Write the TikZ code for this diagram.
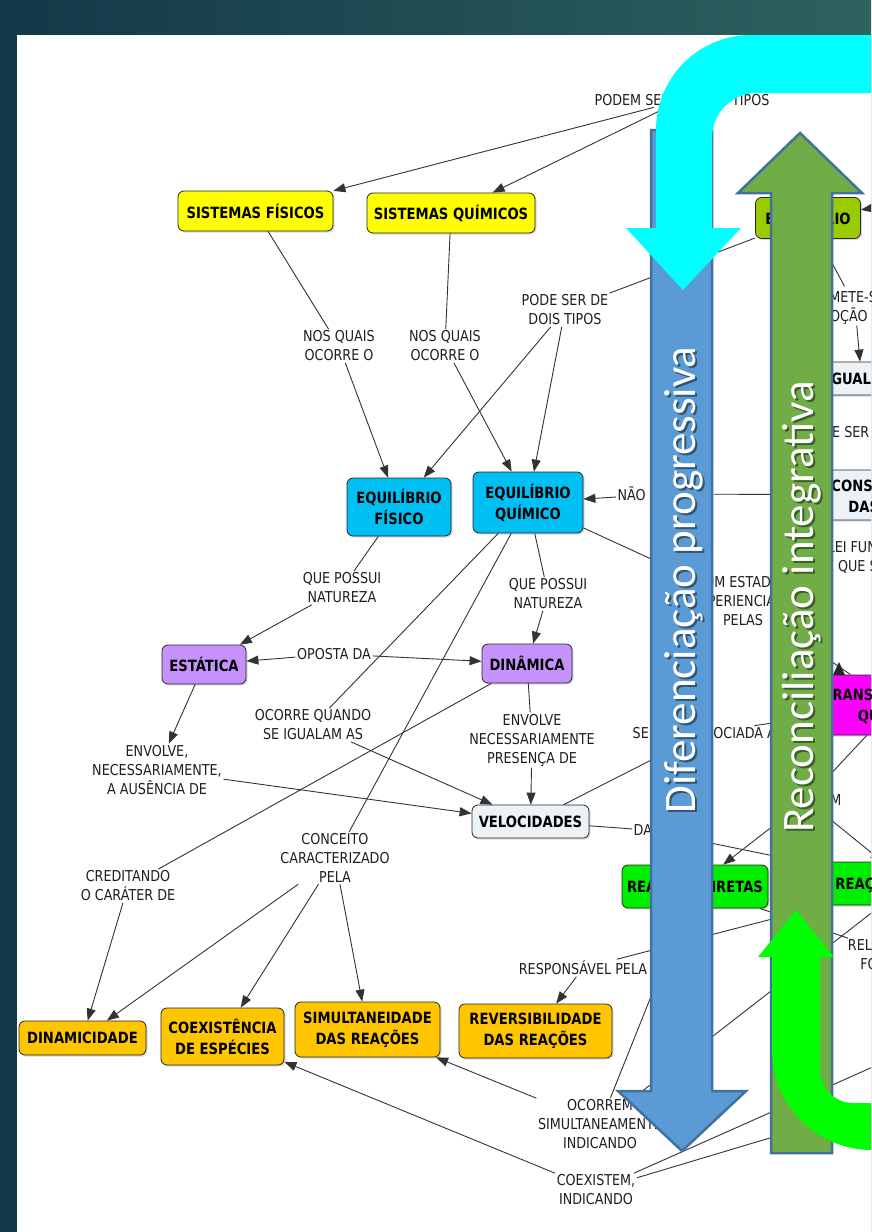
\documentclass[tikz,border=0pt]{standalone}
\usepackage{fontspec}
\newfontfamily\dvsfont{DejaVu Sans}[FakeStretch=0.85]
\newfontfamily\calfnt{Carlito}
\usetikzlibrary{arrows.meta,shadows,calc}
\definecolor{bgL}{RGB}{19,56,72}
\definecolor{bgR}{RGB}{45,98,95}
\definecolor{cYel}{RGB}{255,255,0}
\definecolor{cOlive}{RGB}{153,204,0}
\definecolor{cCyan}{RGB}{0,191,243}
\definecolor{cPurp}{RGB}{196,146,250}
\definecolor{cLight}{RGB}{236,242,246}
\definecolor{cOr}{RGB}{255,198,0}
\definecolor{cGreen}{RGB}{0,238,0}
\definecolor{cMag}{RGB}{255,0,255}
\definecolor{arBlue}{RGB}{91,155,213}
\definecolor{arEdge}{RGB}{65,113,156}
\definecolor{arGreen}{RGB}{112,173,71}
\definecolor{arCyan}{RGB}{0,255,255}
\definecolor{arLime}{RGB}{0,255,0}
\begin{document}
\begin{tikzpicture}[x=1pt,y=-1pt,
  lab/.style={font=\dvsfont\fontsize{15}{19}\selectfont, align=center, inner sep=1.5pt, text=black!88},
  con/.style={draw=black!85, line width=0.8pt, rounded corners=6pt,
    font=\dvsfont\bfseries\fontsize{15.5}{21}\selectfont, align=center, inner sep=2pt,
    drop shadow={shadow xshift=1.5pt, shadow yshift=-1.5pt, opacity=0.3}},
  ln/.style={draw=black!80, line width=0.9pt},
  ar/.style={ln, -{Triangle[length=12pt,width=9pt]}},
  rot/.style={rotate=90, font=\calfnt\fontsize{45}{54}\selectfont, inner sep=0pt},
  bigarrow/.style={draw=arEdge, line width=2.5pt, line join=miter},
]
\useasboundingbox (0,0) rectangle (871,1232);
\begin{scope}
\clip (0,0) rectangle (871,1232);
\shade[left color=bgL, right color=bgR] (0,0) rectangle (871,1232);
\fill[white] (17,35) rectangle (871,1232);

% concepts
\node[con, fill=cYel, minimum width=155, minimum height=40] (sf) at (255.5,211) {SISTEMAS FÍSICOS};
\node[con, fill=cYel, minimum width=168, minimum height=40] (sq) at (451,213) {SISTEMAS QUÍMICOS};
\node[con, fill=cOlive, minimum width=105, minimum height=41] (eq) at (808,218) {EQUILÍBRIO};
\node[con, fill=cCyan, minimum width=104, minimum height=58] (ef) at (399,507) {EQUILÍBRIO\\FÍSICO};
\node[con, fill=cCyan, minimum width=110, minimum height=61] (eqq) at (528,502.5) {EQUILÍBRIO\\QUÍMICO};
\node[con, fill=cPurp, minimum width=84, minimum height=39] (est) at (204,664.5) {ESTÁTICA};
\node[con, fill=cPurp, minimum width=90, minimum height=39] (din) at (527,663.5) {DINÂMICA};
\node[con, fill=cLight, minimum width=117, minimum height=33] (vel) at (530.5,821.5) {VELOCIDADES};
\node[con, fill=cOr, minimum width=127, minimum height=34] (dnm) at (82.5,1038) {DINAMICIDADE};
\node[con, fill=cOr, minimum width=123, minimum height=57] (coex) at (222.5,1036.5) {COEXISTÊNCIA\\DE ESPÉCIES};
\node[con, fill=cOr, minimum width=145, minimum height=55] (sim) at (367.5,1029.5) {SIMULTANEIDADE\\DAS REAÇÕES};
\node[con, fill=cOr, minimum width=153, minimum height=54] (rev) at (535.5,1031) {REVERSIBILIDADE\\DAS REAÇÕES};
\node[con, fill=cGreen, minimum width=146, minimum height=43] (rdir) at (695,886.5) {REAÇÕES DIRETAS};
\node[con, fill=cGreen, minimum height=43, anchor=west, inner xsep=8pt] (rinv) at (827,883.5) {REAÇÕES INVERSAS};
\node[con, fill=cLight, minimum height=33, anchor=west, inner xsep=11pt] (igual) at (815,378.5) {IGUALDADE DAS VELOCIDADES};
\node[con, fill=cLight, minimum height=50, anchor=west, inner xsep=16pt, align=left] (cons) at (815,495) {CONSTÂNCIA\\\hspace*{17pt}DAS PROPRIEDADES};
\node[con, fill=cMag, minimum width=170, minimum height=60] (trans) at (895,705) {TRANSFORMAÇÕES\\QUÍMICAS};

% linking phrases
\node[lab] (lPodem) at (682,100) {PODEM SER DE DOIS TIPOS};
\node[lab] (lNQ1) at (339,346) {NOS QUAIS\\OCORRE O};
\node[lab] (lNQ2) at (445,346) {NOS QUAIS\\OCORRE O};
\node[lab] (lDois) at (565,310) {PODE SER DE\\DOIS TIPOS};
\node[lab, anchor=west] (lNao) at (616,494) {NÃO ATINGIDO};
\node[lab] (lRem) at (855,306) {REMETE-SE À\\NOÇÃO DE};
\node[lab] (lPS) at (837,432) {PODE SER};
\node[lab] (lLei) at (887,557) {LEI FUNDAMENTAL\\QUE SE BASEIA};
\node[lab] (lExp) at (743,601) {UM ESTADO\\EXPERIENCIADO\\PELAS};
\node[lab] (lQP1) at (342,588) {QUE POSSUI\\NATUREZA};
\node[lab] (lQP2) at (548,594) {QUE POSSUI\\NATUREZA};
\node[lab] (lOp) at (334,654) {OPOSTA DA};
\node[lab] (lEnv1) at (157,770) {ENVOLVE,\\NECESSARIAMENTE,\\A AUSÊNCIA DE};
\node[lab] (lEnv2) at (532,740) {ENVOLVE\\NECESSARIAMENTE\\PRESENÇA DE};
\node[lab] (lOc) at (313,725) {OCORRE QUANDO\\SE IGUALAM AS};
\node[lab, anchor=west] (lSer) at (631,733) {SEMPRE ASSOCIADA A};
\node[lab, anchor=west] (lDas) at (632,830) {DAS};
\node[lab, anchor=east] (lEnvm) at (843,800) {ENVOLVEM};
\node[lab] (lCred) at (128,886) {CREDITANDO\\O CARÁTER DE};
\node[lab] (lConc) at (335,858) {CONCEITO\\CARACTERIZADO\\PELA};
\node[lab] (lRel) at (898,955) {RELACIONADAS\\FORMANDO};
\node[lab] (lResp) at (583,968) {RESPONSÁVEL PELA};
\node[lab] (lOc2) at (600,1124) {OCORREM\\SIMULTANEAMENTE\\INDICANDO};
\node[lab] (lCoex) at (596,1190) {COEXISTEM,\\INDICANDO};
\coordinate (eqIn) at (905,203);
\coordinate (cR1) at (920,1046);
\coordinate (cR2) at (920,1093);

% connectors
\draw[ar] (lPodem) -- (sf);
\draw[ar] (lPodem) -- (sq);
\draw[ln] (sf) -- (lNQ1); \draw[ar] (lNQ1) -- (ef);
\draw[ln] (sq) -- (lNQ2); \draw[ar] (lNQ2) -- (eqq);
\draw[ln] (eq) -- (lDois); \draw[ar] (lDois) -- (ef); \draw[ar] (lDois) -- (eqq);
\draw[ar] (lNao) -- (eqq); \draw[ln] (lNao) -- (cons);
\draw[ar] (eqIn) -- (eq);
\draw[ln] (eq) -- (lRem); \draw[ar] (lRem) -- ($(igual.north west)+(45,0)$);
\draw[ln] (eqq) -- (lExp); \draw[ln] (lExp) -- (trans);
\draw[ln] (ef) -- (lQP1); \draw[ar] (lQP1) -- (est);
\draw[ln] (eqq) -- (lQP2); \draw[ar] (lQP2) -- (din);
\draw[ar] (lOp) -- (est); \draw[ar] (lOp) -- (din);
\draw[ar] (est) -- (lEnv1); \draw[ar] (lEnv1) -- (vel);
\draw[ln] (din) -- (lEnv2); \draw[ar] (lEnv2) -- (vel);
\draw[ln] (eqq) -- (lOc); \draw[ar] (lOc) -- (vel);
\draw[ln] (din) -- (lCred); \draw[ar] (lCred) -- (dnm);
\draw[ln] (eqq) -- (lConc); \draw[ar] (lConc) -- (dnm); \draw[ar] (lConc) -- (coex); \draw[ar] (lConc) -- (sim);
\draw[ln] (vel) -- (lSer); \draw[ar] (lSer) -- (trans);
\draw[ln] (vel) -- (lDas); \draw[ar] (lDas) -- (rinv);
\draw[ln] (trans) -- (lEnvm); \draw[ar] (lEnvm) -- (rdir); \draw[ar] (lEnvm) -- (rinv);
\draw[ln] (rdir) -- (lOc2); \draw[ln] (rinv) -- (lOc2); \draw[ar] (lOc2) -- (sim);
\draw[ln] (rdir) -- (lRel);
\draw[ln] (rinv) -- (lResp); \draw[ar] (lResp) -- (rev);
\draw[ar] (lCoex) -- (coex); \draw[ln] (lCoex) -- (cR1); \draw[ln] (lCoex) -- (cR2);
\fill[black!85] (833,675) -- (839,662) -- (845,675) -- cycle;

% big arrows
\filldraw[bigarrow, fill=arBlue] (651,130) -- (712,130) -- (712,1091) -- (746,1091) -- (682,1151) -- (618,1091) -- (651,1091) -- cycle;
\filldraw[bigarrow, fill=arGreen] (771,1153) -- (771,193) -- (738,193) -- (800,133) -- (862,193) -- (832,193) -- (832,1153) -- cycle;
\node[rot, text=black, opacity=0.45] (tDifS) at (686,582) {Diferenciação progressiva};
\node[rot, text=white] (tDif) at (684,580) {Diferenciação progressiva};
\node[rot, text=black, opacity=0.45] (tRecS) at (804,609) {Reconciliação integrativa};
\node[rot, text=white] (tRec) at (802,607) {Reconciliação integrativa};
\fill[arCyan] (875,35) -- (751,35) .. controls (698.5,35) and (656,77.5) .. (656,130) -- (656,228) -- (626,228) -- (683,290) -- (741,228) -- (712,228) -- (712,138) .. controls (712,113.1) and (732.1,93) .. (757,93) -- (875,93) -- cycle;
\fill[arLime] (758,957) -- (796,910) -- (834,957) -- (820,957) -- (820,1070) .. controls (820,1088.2) and (834.8,1103) .. (853,1103) -- (875,1103) -- (875,1150) -- (872,1150) .. controls (816.8,1150) and (772,1105.2) .. (772,1050) -- (772,957) -- cycle;
\end{scope}
\end{tikzpicture}
\end{document}
